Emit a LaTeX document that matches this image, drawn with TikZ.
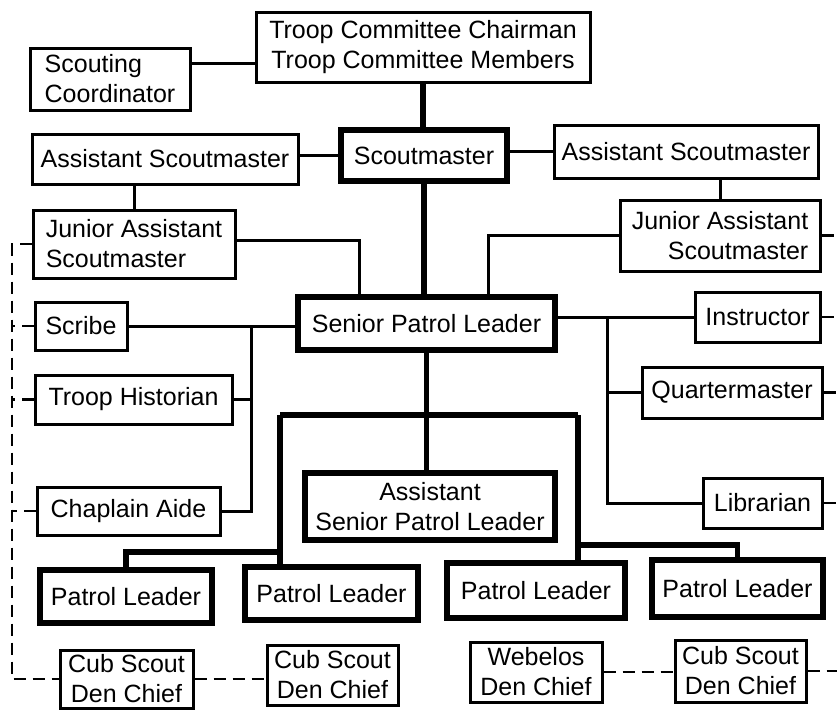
\documentclass[tikz,border=0pt]{standalone}
\usepackage{fontspec}
\setmainfont{Liberation Sans}
\usetikzlibrary{positioning}

\begin{document}
\begin{tikzpicture}[x=1pt, y=-1pt,
	box/.style={draw, line width=3pt, inner sep=2pt, align=center, font=\fontsize{25}{30}\selectfont},
	boldbox/.style={box, line width=6pt},
	link/.style={line width=3pt},
	boldlink/.style={line width=5.5pt},
	dashlink/.style={line width=2.6pt, dash pattern=on 12pt off 7pt}]
	\fill[white] (0,0) rectangle (837,710);
	\useasboundingbox (0,0) rectangle (837,710);
	
	% Committee and Scoutmaster
	\node[box, minimum width=334pt, minimum height=70pt] (tcc) at (423,47) {Troop Committee Chairman\\Troop Committee Members};
	\node[box, align=left, minimum width=160pt, minimum height=62pt] (sc) at (110,79) {Scouting\\Coordinator};
	\node[boldbox, minimum width=166pt, minimum height=51pt] (sm) at (424,155.5) {Scoutmaster};
	\node[box, minimum width=266pt, minimum height=50pt] (asmL) at (165,159) {Assistant Scoutmaster};
	\node[box, minimum width=264pt, minimum height=53pt] (asmR) at (686,151.5) {Assistant Scoutmaster};
	\node[box, align=left, minimum width=202pt, minimum height=68pt] (jasmL) at (134,244) {Junior Assistant\\Scoutmaster};
	\node[box, align=right, minimum width=200pt, minimum height=71pt] (jasmR) at (720,235.5) {Junior Assistant\\Scoutmaster};
	
	% Senior Patrol Leader and staff
	\node[boldbox, minimum width=257pt, minimum height=53pt] (spl) at (426.5,323.5) {Senior Patrol Leader};
	\node[box, minimum width=92pt, minimum height=48pt] (scribe) at (81,326) {Scribe};
	\node[box, minimum width=197pt, minimum height=49pt] (hist) at (133.5,399.5) {Troop Historian};
	\node[box, minimum width=183pt, minimum height=48pt] (chap) at (128.5,511) {Chaplain Aide};
	\node[box, minimum width=125pt, minimum height=50pt] (instr) at (757.5,317) {Instructor};
	\node[box, minimum width=180pt, minimum height=51pt] (qm) at (732,392.5) {Quartermaster};
	\node[box, minimum width=119pt, minimum height=50pt] (lib) at (762.5,503) {Librarian};
	\node[boldbox, minimum width=250pt, minimum height=67pt] (aspl) at (430,506.5) {Assistant\\Senior Patrol Leader};
	
	% Patrol leaders
	\node[boldbox, minimum width=172pt, minimum height=53pt] (pl1) at (126,596.5) {Patrol Leader};
	\node[boldbox, minimum width=173pt, minimum height=53pt] (pl2) at (331.5,593.5) {Patrol Leader};
	\node[boldbox, minimum width=178pt, minimum height=55pt] (pl3) at (536,590.5) {Patrol Leader};
	\node[boldbox, minimum width=171pt, minimum height=57pt] (pl4) at (737.5,588.5) {Patrol Leader};
	
	% Den chiefs
	\node[box, minimum width=133pt, minimum height=58pt] (cd1) at (126.5,679) {Cub Scout\\Den Chief};
	\node[box, minimum width=131pt, minimum height=60pt] (cd2) at (332.5,675) {Cub Scout\\Den Chief};
	\node[box, minimum width=132pt, minimum height=60pt] (web) at (536,672) {Webelos\\Den Chief};
	\node[box, minimum width=131pt, minimum height=62pt] (cd4) at (740.5,671) {Cub Scout\\Den Chief};
	
	% Bus points
	\coordinate (lbus) at (251,326);
	\coordinate (rbus) at (607,317);
	\coordinate (brl) at (280,415);
	\coordinate (brr) at (578,415);
	\coordinate (dleft) at (12,245);
	\coordinate (dright) at (837,0);
	
	% Solid connectors
	\draw[link] ([yshift=16pt]sc.east) -- ([yshift=16pt]sc.east -| tcc.west);
	\draw[boldlink] (tcc.south) -- (tcc.south |- sm.north);
	\draw[link] (sm.west -| asmL.east) -- (sm.west);
	\draw[link] (asmR.west -| sm.east) -- (asmR.west);
	\draw[link] (jasmL.north |- asmL.south) -- (jasmL.north);
	\draw[link] (jasmR.north |- asmR.south) -- (jasmR.north);
	\draw[boldlink] (sm.south) -- (sm.south |- spl.north);
	\draw[link] ([yshift=4pt]jasmL.east) -| ([xshift=-67.5pt]spl.north);
	\draw[link] (jasmR.west) -| ([xshift=61.5pt]spl.north);
	\draw[link] (scribe.east) -- (scribe.east -| spl.west);
	\draw[link] (hist.east) -- (hist.east -| lbus);
	\draw[link] (chap.east) -| (lbus);
	\draw[link] (instr.west -| spl.east) -- (instr.west);
	\draw[link] (qm.west) -- (qm.west -| rbus);
	\draw[link] (lib.west) -| (rbus);
	\draw[boldlink] (spl.south) -- (spl.south |- aspl.north);
	\draw[boldlink] (brl) -- (brr);
	\draw[boldlink] (brl) -- (brl |- pl2.north);
	\draw[boldlink] (brr) -- (brr |- pl3.north);
	\draw[boldlink] ([yshift=-137pt]brl) -| (pl1.north);
	\draw[boldlink] ([yshift=-130pt]brr) -| (pl4.north);
	
	% Dashed connectors
	\draw[dashlink] (jasmL.west) -| (cd1.west -| dleft) -- (cd1.west);
	\draw[dashlink] (scribe.west) -- (scribe.west -| dleft);
	\draw[dashlink] (hist.west) -- (hist.west -| dleft);
	\draw[dashlink] (chap.west) -- (chap.west -| dleft);
	\draw[dashlink] (cd1.east) -- (cd1.east -| cd2.west);
	\draw[dashlink] (web.east) -- (web.east -| cd4.west);
	\draw[dashlink] (jasmR.east) -- (jasmR.east -| dright);
	\draw[dashlink] (instr.east) -- (instr.east -| dright);
	\draw[dashlink] (qm.east) -- (qm.east -| dright);
	\draw[dashlink] (lib.east) -- (lib.east -| dright);
	\draw[dashlink] (cd4.east) -- (cd4.east -| dright);
	
\end{tikzpicture}
\end{document}
